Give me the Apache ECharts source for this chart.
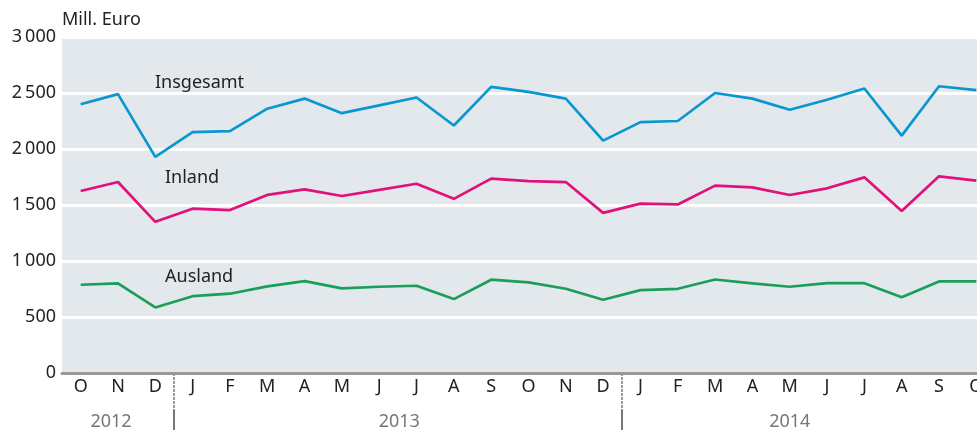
<!DOCTYPE html>
<html>
<head>
<meta charset="utf-8">
<script src="https://cdn.jsdelivr.net/npm/echarts@6/dist/echarts.min.js"></script>
<style>
  html, body { margin: 0; padding: 0; background: #fff; overflow: hidden; }
  #chart { width: 995px; height: 430px; }
</style>
</head>
<body>
<div id="chart"></div>
<script>
// Monate Okt 2012 bis Okt 2014 (rechter Rand wird abgeschnitten)
let months = ['O','N','D','J','F','M','A','M','J','J','A','S','O','N','D','J','F','M','A','M','J','J','A','S','O'];
let years = ['','2012','','','','','','','2013','','','','','','','','','','','2014','','','','',''];
let yearStarts = [3, 15];

let insgesamt = [2400,2490,1930,2150,2160,2360,2450,2320,2390,2460,2210,2555,2510,2450,2075,2240,2250,2500,2450,2350,2440,2540,2120,2560,2525];
let inland = [1625,1705,1350,1467,1455,1590,1640,1580,1635,1690,1555,1735,1714,1705,1430,1512,1505,1673,1658,1589,1649,1747,1446,1756,1717];
let ausland = [788,800,585,686,708,773,820,755,770,779,660,833,809,752,654,740,752,835,800,770,802,802,677,818,818];

let yTicks = [0, 500, 1000, 1500, 2000, 2500, 3000];

let font = '"Noto Sans", sans-serif';
let fs = 18;
let chart = echarts.init(document.getElementById('chart'));

function fmtY(v) {
    // Tausendertrennzeichen als schmales Leerzeichen
    let s = String(v);
    if (s.length > 3) s = s.slice(0, s.length - 3) + '\u2009' + s.slice(-3);
    return s;
}

function lineSeries(name, data, color) {
    return {
        name: name,
        type: 'line',
        data: data,
        symbol: 'none',
        lineStyle: {color: color, width: 2.7},
        itemStyle: {color: color},
        animation: false
    };
}

let option = {
    animation: false,
    textStyle: {fontFamily: font},
    grid: {
        left: 62, top: 37, bottom: 57, right: 0,
        outerBoundsMode: 'none',
        show: true,
        backgroundColor: '#e3e8ec',
        borderWidth: 0
    },
    graphic: [
        {type: 'text', left: 62, top: 11, style: {text: 'Mill. Euro', font: fs + 'px ' + font, fill: '#222'}},
        {type: 'text', left: 155, top: 74, style: {text: 'Insgesamt', font: fs + 'px ' + font, fill: '#222'}},
        {type: 'text', left: 165, top: 169, style: {text: 'Inland', font: fs + 'px ' + font, fill: '#222'}},
        {type: 'text', left: 165, top: 268, style: {text: 'Ausland', font: fs + 'px ' + font, fill: '#222'}}
    ],
    xAxis: [
        {
            type: 'category',
            data: months,
            boundaryGap: true,
            axisLine: {show: true, lineStyle: {color: '#999', width: 3}},
            axisTick: {
                show: true,
                length: 37,
                interval: function (i) { return yearStarts.indexOf(i) >= 0; },
                lineStyle: {color: '#999', width: 2, type: [3, 1]}
            },
            axisLabel: {interval: 0, color: '#222', fontSize: fs, margin: 5, fontFamily: font},
            splitLine: {show: false}
        },
        {
            type: 'category',
            data: years,
            boundaryGap: true,
            position: 'bottom',
            offset: 37,
            axisLine: {show: false},
            axisTick: {
                show: true,
                length: 20,
                interval: function (i) { return yearStarts.indexOf(i) >= 0; },
                lineStyle: {color: '#777', width: 2}
            },
            axisLabel: {
                interval: 0, color: '#777', fontSize: fs, margin: 3, fontFamily: font,
                formatter: function (v) {
                    if (v === '2012') return '{a|' + v + '}';
                    if (v === '2013') return '{b|' + v + '}';
                    return v;
                },
                rich: {
                    a: {fontSize: fs, color: '#777', fontFamily: font, padding: [0, 14, 0, 0]},
                    b: {fontSize: fs, color: '#777', fontFamily: font, padding: [0, 0, 0, 40]}
                }
            }
        }
    ],
    yAxis: {
        type: 'value',
        min: 0,
        max: 3000,
        interval: 500,
        axisLine: {show: false},
        axisTick: {show: false},
        axisLabel: {
            color: '#222', fontSize: fs, margin: 6, fontFamily: font,
            formatter: function (v) { return yTicks.indexOf(v) >= 0 ? fmtY(v) : ''; }
        },
        splitLine: {show: true, lineStyle: {color: '#fff', width: 3}}
    },
    series: [
        lineSeries('Insgesamt', insgesamt, '#0a96cf'),
        lineSeries('Inland', inland, '#e2107a'),
        lineSeries('Ausland', ausland, '#1b9e5a')
    ]
};
chart.setOption(option);
</script>
</body>
</html>
